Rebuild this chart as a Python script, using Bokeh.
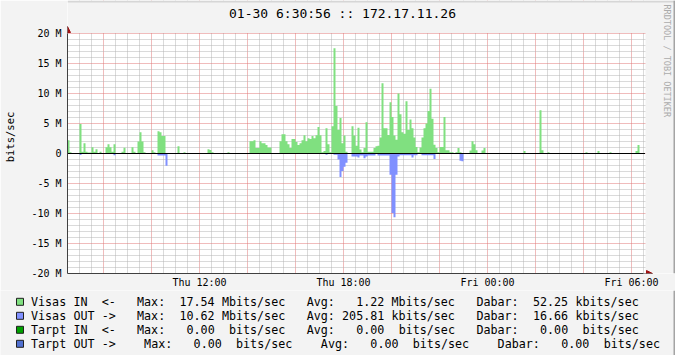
import re
import math
from datetime import datetime, timedelta
from bokeh.plotting import figure
from bokeh.layouts import column
from bokeh.models import (Range1d, FixedTicker, DatetimeTickFormatter, Label,
                          Arrow, NormalHead, BoxAnnotation)
from bokeh.core.properties import value
from bokeh.embed import file_html
from bokeh.resources import INLINE

# ---------------- data ----------------
start_time = datetime(2009, 1, 29, 6, 30)   # Thu 06:30
step_minutes = 5                              # one sample every 5 minutes, 24 h

# Visas IN (Mbits/sec), 12 samples per hour starting 06:30
visas_in = [
    2.2, 0.2, 0, 0, 0, 0, 4.9, 0.3, 1.7, 0.3, 0.15, 0.15,
    1.05, 0.3, 0.7, 0, 0.3, 0, 0, 1.05, 1.55, 1.05, 0.3, 1.55,
    0, 0, 0, 0.3, 0.95, 0, 0, 0, 1.05, 0.3, 0, 2.0,
    3.55, 2.0, 0.2, 0, 0, 0, 0.55, 0.2, 0, 3.7, 3.55, 2.9,
    2.9, 0.1, 0, 0, 0, 0, 0, 1.2, 0, 0, 0.2, 0,
    0, 0, 0, 0, 0, 0, 0, 0, 0, 0, 0.7, 0.6,
    0.2, 0, 0, 0, 0, 0, 0, 0, 0.2, 0, 0, 0,
    0, 0, 0, 0, 0, 0, 0, 2.05, 2.05, 2.2, 0.9, 0.9,
    2.05, 1.7, 1.7, 1.4, 1.0, 1.0, 0, 0, 0, 0, 2.05, 3.2,
    3.2, 2.05, 1.55, 0.9, 2.4, 2.4, 1.9, 1.4, 1.7, 2.2, 3.05, 2.05,
    2.55, 2.4, 2.9, 2.55, 3.05, 4.4, 3.05, 0.2, 0.4, 4.2, 1.55, 0.2,
    4.55, 17.54, 7.9, 3.9, 5.9, 1.7, 3.0, 0.3, 0.1, 0, 4.55, 3.0,
    1.3, 4.3, 0.65, 0.2, 0.9, 5.2, 0.3, 0.3, 0.3, 0.9, 1.2, 1.3,
    2.65, 11.7, 4.2, 4.2, 3.1, 8.55, 6.1, 3.0, 2.3, 10.0, 6.55, 3.55,
    3.3, 8.7, 3.9, 5.65, 4.2, 2.65, 1.1, 0.2, 1.0, 2.65, 4.2, 5.0,
    7.1, 10.8, 5.8, 1.45, 0.9, 0.2, 1.1, 1.1, 6.1, 0.55, 0.55, 0.2,
    0.2, 0, 0.2, 0.9, 0.2, 0, 0, 0, 0, 0.5, 2.05, 1.55,
    0.55, 0, 0, 0.5, 0.9, 0, 0, 0, 0, 0, 0, 0,
    0, 0, 0, 0, 0, 0, 0, 0, 0, 0, 0, 0,
    0.4, 0, 0, 0, 0, 0, 0, 0, 7.2, 0.55, 0, 0,
    0.2, 0, 0, 0, 0, 0, 0, 0, 0, 0, 0, 0,
    0, 0, 0, 0, 0, 0, 0, 0.2, 0, 0, 0, 0,
    0, 0.4, 0, 0, 0, 0, 0, 0.2, 0, 0, 0, 0,
    0, 0, 0, 0, 0, 0, 0, 0, 0.4, 1.4, 0, 0,
]

# Visas OUT (Mbits/sec), drawn below zero
visas_out = [
    0, 0, 0, 0, 0, 0, 0.25, 0, 0, 0, 0, 0,
    0, 0, 0, 0, 0, 0, 0, 0, 0, 0, 0, 0.3,
    0, 0, 0, 0, 0, 0, 0, 0, 0, 0, 0, 0,
    0, 0, 0, 0, 0, 0, 0, 0, 0, 0.33, 0.33, 0.33,
    0.33, 2.05, 0, 0, 0, 0, 0, 0, 0, 0, 0, 0,
    0, 0, 0, 0, 0, 0, 0, 0, 0, 0, 0, 0,
    0, 0, 0, 0, 0, 0, 0, 0, 0, 0, 0, 0,
    0, 0, 0, 0, 0, 0, 0, 0, 0, 0, 0, 0,
    0, 0, 0, 0, 0, 0, 0, 0, 0, 0, 0, 0,
    0, 0, 0, 0, 0, 0, 0, 0, 0, 0, 0, 0,
    0, 0, 0, 0, 0, 0, 0, 0, 0, 0.2, 0, 0,
    0, 0.2, 0.2, 1.0, 3.9, 2.9, 2.2, 1.55, 0, 0, 0.5, 0.5,
    0.5, 0.65, 0.35, 0.35, 0.8, 0.5, 0.33, 0.33, 0.33, 0.33, 0, 0.35,
    0.35, 0.35, 0.35, 0.35, 0.35, 3.55, 9.9, 10.62, 3.55, 0.5, 0.3, 0.3,
    0.3, 0.3, 0.3, 0.3, 0.65, 0.3, 0.3, 0, 0, 0.3, 0.3, 0.3,
    0.3, 0.3, 0.3, 0.9, 0, 0, 0, 0, 0, 0, 0, 0,
    0, 0, 0, 0, 1.2, 1.3, 0, 0, 0, 0, 0, 0,
    0, 0, 0, 0, 0, 0, 0, 0, 0, 0, 0, 0,
    0, 0, 0, 0, 0, 0, 0, 0, 0, 0, 0, 0,
    0, 0, 0, 0, 0, 0, 0, 0, 0, 0, 0, 0,
    0, 0, 0, 0, 0, 0, 0, 0, 0, 0, 0, 0,
    0, 0, 0, 0, 0, 0, 0, 0, 0, 0, 0, 0,
    0, 0, 0, 0, 0, 0, 0, 0, 0, 0, 0, 0,
    0, 0, 0, 0, 0, 0, 0, 0, 0, 0, 0, 0,
]

y_ticks = [-20, -15, -10, -5, 0, 5, 10, 15, 20]
y_tick_labels = ["-20 M", "-15 M", "-10 M", "-5 M", "0", "5 M", "10 M", "15 M", "20 M"]
x_label_hours = [datetime(2009, 1, 29, 12), datetime(2009, 1, 29, 18),
                 datetime(2009, 1, 30, 0), datetime(2009, 1, 30, 6)]

title_text = "01-30 6:30:56 :: 172.17.11.26"
credit_text = "RRDTOOL / TOBI OETIKER"
legend_colors = ["#80E080", "#8090FF", "#00A000", "#5070D0"]
legend_rows = [
    "Visas IN  <-   Max:  17.54 Mbits/sec   Avg:   1.22 Mbits/sec   Dabar:  52.25 kbits/sec",
    "Visas OUT ->   Max:  10.62 Mbits/sec   Avg: 205.81 kbits/sec   Dabar:  16.66 kbits/sec",
    "Tarpt IN  <-   Max:   0.00  bits/sec   Avg:   0.00  bits/sec   Dabar:   0.00  bits/sec",
    "Tarpt OUT ->    Max:   0.00  bits/sec    Avg:   0.00  bits/sec    Dabar:   0.00  bits/sec",
]

# ---------------- layout constants ----------------
EPOCH = datetime(1970, 1, 1)


def ms(dt):
    return (dt - EPOCH).total_seconds() * 1000.0


n = len(visas_in)
edges = [ms(start_time + timedelta(minutes=step_minutes * i)) for i in range(n + 1)]
t_start, t_end = edges[0], edges[-1]

FONT = "DejaVu Sans Mono"
BG = "#F3F3F3"
W, H = 675, 355
PLOT_L, PLOT_T, PLOT_W, PLOT_H = 67, 33, 576, 240    # rrdtool graph area
MAIN_H = 288                                          # main figure height
BOTTOM = MAIN_H - PLOT_T - PLOT_H                     # room for x labels
FRAME_W = W - PLOT_L                                  # frame spans to the right edge
FRAME_H = PLOT_T + PLOT_H                             # frame spans to the top edge

ms_per_px = (t_end - t_start) / PLOT_W
val_per_px = 40.0 / PLOT_H
x_hi = t_start + FRAME_W * ms_per_px
y_hi = 20 + PLOT_T * val_per_px


def sx(X):  # canvas x -> screen units relative to frame left
    return X - PLOT_L


def sy(Y):  # canvas y -> screen units relative to frame bottom
    return FRAME_H - Y


p = figure(frame_width=FRAME_W, frame_height=FRAME_H,
           min_border_left=PLOT_L, min_border_right=0,
           min_border_top=0, min_border_bottom=BOTTOM,
           x_axis_type="datetime", title=None,
           x_range=Range1d(t_start, x_hi), y_range=Range1d(-20, y_hi),
           output_backend="svg", toolbar_location=None,
           background_fill_color="white", border_fill_color=BG,
           outline_line_color=None)
p.frame_align = False

# grid
major_x = [ms(datetime(2009, 1, 29, 8) + timedelta(hours=2 * k)) for k in range(12)]
minor_x = [ms(start_time + timedelta(minutes=30 * k)) for k in range(1, 49)]
minor_x = [m for m in minor_x if m not in major_x]
p.xgrid.ticker = FixedTicker(ticks=major_x, minor_ticks=minor_x)
p.ygrid.ticker = FixedTicker(ticks=y_ticks, minor_ticks=[v for v in range(-20, 21) if v % 5])
for g in (p.xgrid, p.ygrid):
    g.grid_line_color = "#E07878"
    g.grid_line_dash = "1 1"
    g.grid_line_width = 1
    g.minor_grid_line_color = "#B4B4B4"
    g.minor_grid_line_dash = "1 1"
    g.minor_grid_line_width = 1

# background outside the rrdtool graph area (covers grid there)
p.add_layout(BoxAnnotation(bottom=20 + 0.5 * val_per_px, fill_color=BG, fill_alpha=1,
                           line_alpha=0, level="underlay"))
p.add_layout(BoxAnnotation(left=t_end + 2 * ms_per_px, fill_color=BG, fill_alpha=1,
                           line_alpha=0, level="underlay"))

# data areas
p.varea_step(x=edges, y1=[0] * (n + 1), y2=visas_in + [visas_in[-1]], step_mode="after",
             fill_color=legend_colors[0])
p.varea_step(x=edges, y1=[0] * (n + 1), y2=[-v for v in visas_out] + [-visas_out[-1]],
             step_mode="after", fill_color=legend_colors[1])

# zero rule over the graph area only
p.segment(x0=[t_start], x1=[t_end + 1.5 * ms_per_px], y0=[0], y1=[0],
          line_color="black", line_width=1)

# axes
AX_COLOR = "#404040"
p.yaxis.ticker = FixedTicker(ticks=y_ticks)
p.yaxis.major_label_overrides = {t: l for t, l in zip(y_ticks, y_tick_labels)}
p.yaxis.axis_label = "bits/sec"
p.yaxis.axis_label_standoff = 12
p.yaxis.bounds = (-20, 20)
p.xaxis.ticker = FixedTicker(ticks=[ms(d) for d in x_label_hours])
p.xaxis.bounds = (t_start, t_end)
fmt = "%a %H:%M"
p.xaxis.formatter = DatetimeTickFormatter(microseconds=fmt, milliseconds=fmt, seconds=fmt,
                                          minsec=fmt, minutes=fmt, hourmin=fmt, hours=fmt,
                                          days=fmt, months=fmt, years=fmt)
for ax in (p.xaxis[0], p.yaxis[0]):
    ax.axis_line_color = AX_COLOR
    ax.major_tick_in = 0
    ax.major_tick_out = 0
    ax.minor_tick_in = 0
    ax.minor_tick_out = 0
    ax.major_label_text_font = FONT
    ax.major_label_text_font_size = "10px"
    ax.major_label_text_color = "black"
    ax.axis_label_text_font = FONT
    ax.axis_label_text_font_size = "10.5px"
    ax.axis_label_text_font_style = "normal"
    ax.axis_label_text_color = "black"
p.yaxis.major_label_standoff = 6
p.xaxis.major_label_standoff = 3

# axis arrows
ARROW_C = "#A01010"
p.add_layout(Arrow(x_start=t_end, y_start=-20, x_end=t_end + 9 * ms_per_px, y_end=-20,
                   line_color=AX_COLOR, line_width=1,
                   end=NormalHead(size=6, fill_color=ARROW_C, line_color=ARROW_C)))
p.add_layout(Arrow(x_start=t_start, y_start=20, x_end=t_start, y_end=20 + 7 * val_per_px,
                   line_color=AX_COLOR, line_width=1,
                   end=NormalHead(size=6, fill_color=ARROW_C, line_color=ARROW_C)))

# title and credit text (inside the extended frame)
p.add_layout(Label(x=sx(342), y=sy(13), x_units="screen", y_units="screen",
                   text=title_text, text_align="center", text_baseline="middle",
                   text_font=FONT, text_font_size="13px", text_color="black"))
p.add_layout(Label(x=sx(666), y=sy(4), x_units="screen", y_units="screen",
                   text=credit_text, angle=-math.pi / 2,
                   text_align="left", text_baseline="middle",
                   text_font=FONT, text_font_size="8.5px", text_color="#ABABAB"))
# 3D frame edges
p.add_layout(BoxAnnotation(bottom=sy(2), top=sy(0), bottom_units="screen", top_units="screen",
                           fill_color="#D6D6D6", fill_alpha=1, line_alpha=0))
p.add_layout(BoxAnnotation(left=sx(W - 2), right=sx(W), left_units="screen",
                           right_units="screen", fill_color="#A4A4A4", fill_alpha=1,
                           line_alpha=0))

# ---------------- legend figure ----------------
LEG_H = H - MAIN_H
leg = figure(width=W, height=LEG_H, x_range=Range1d(0, W), y_range=Range1d(H, MAIN_H),
             min_border=0, x_axis_location=None, y_axis_location=None,
             output_backend="svg", toolbar_location=None,
             background_fill_color=BG, border_fill_color=BG, outline_line_color=None)
leg.frame_align = False
leg.grid.visible = False

CHAR_W = 7.07
row_y = [299.3, 313.3, 327.3, 341.3]
lx, ly, lt = [], [], []
for r, row in enumerate(legend_rows):
    for m in re.finditer(r"\S+", row):
        lx.append(30.5 + CHAR_W * m.start())
        ly.append(row_y[r])
        lt.append(m.group())
leg.text(x=lx, y=ly, text=lt, text_font=value(FONT), text_font_size=value("11.7px"),
         text_baseline="middle", text_align="left", text_color="black")
leg.quad(left=[16] * 4, right=[23] * 4, top=[y - 3.5 for y in row_y],
         bottom=[y + 3.5 for y in row_y], fill_color=legend_colors,
         line_color="#202020", line_width=1)
leg.quad(left=[W - 2, 0], right=[W, W], top=[MAIN_H, H - 2], bottom=[H, H],
         fill_color="#A4A4A4", line_alpha=0)

layout = column(p, leg, spacing=0)
open("out.html", "w").write(file_html(layout, INLINE))
